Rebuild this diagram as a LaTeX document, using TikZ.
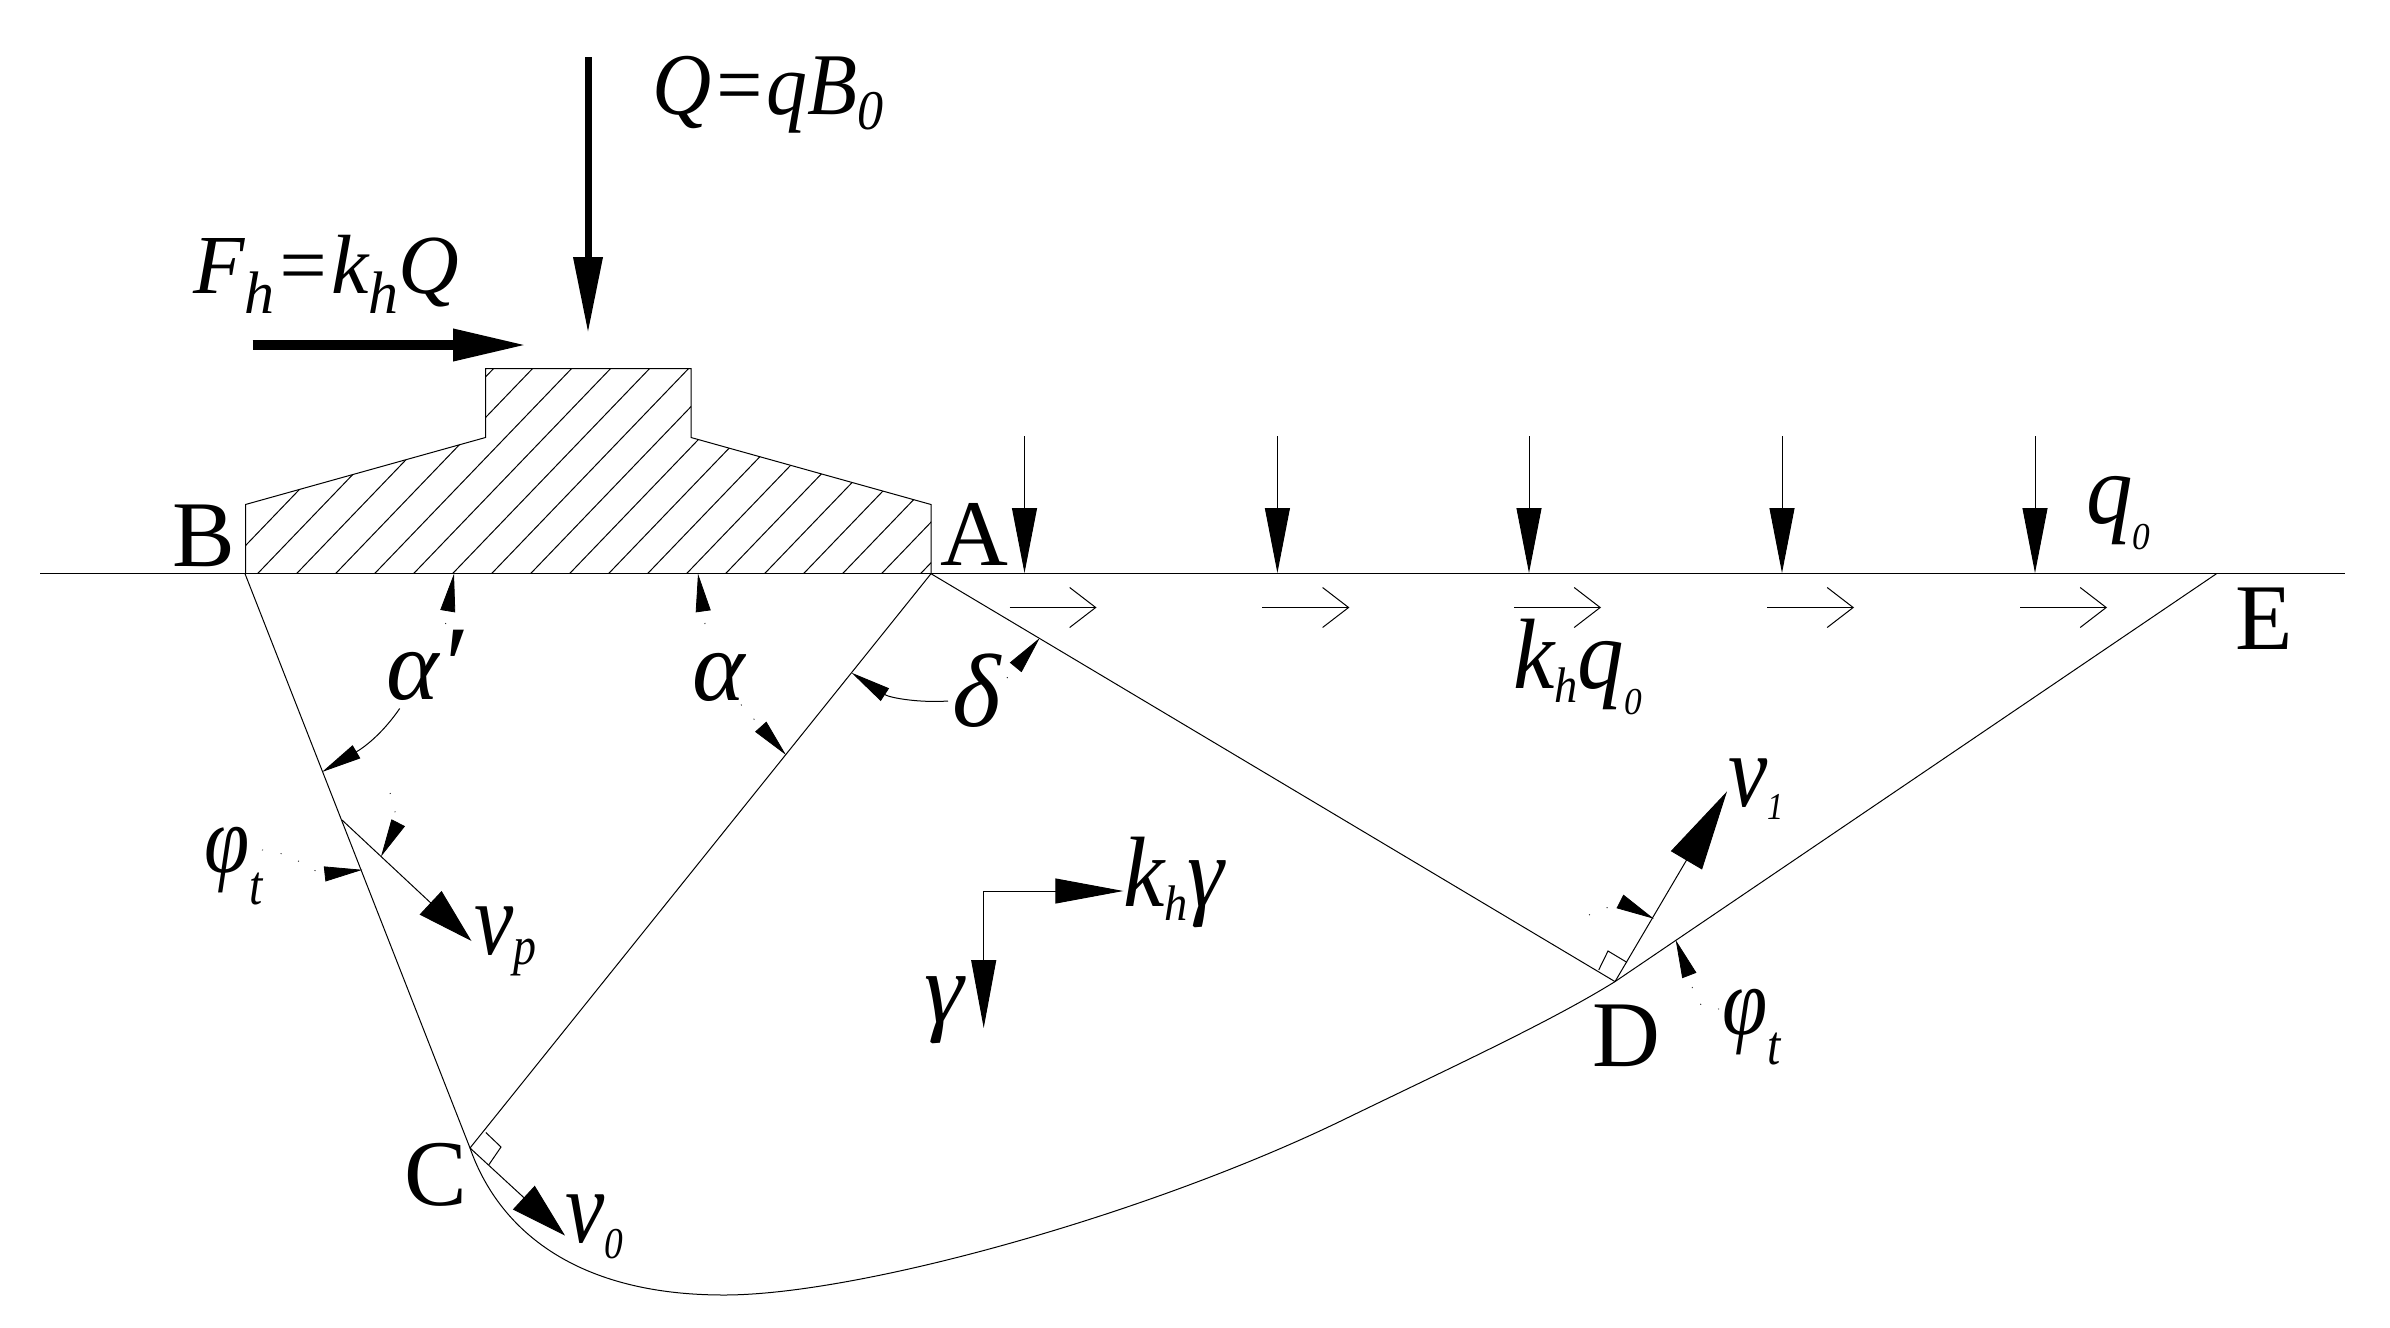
\documentclass[tikz,border=0pt]{standalone}
\usepackage{fontspec}
\usetikzlibrary{arrows.meta}
\setmainfont{Liberation Serif}
\newfontfamily\condfont[FakeStretch=0.85]{Liberation Serif}
\newfontfamily\midfont[FakeStretch=0.93]{Liberation Serif}
\newcommand\lowsub[3]{\raisebox{-#1}{\fontsize{#2}{#2}\selectfont #3}}
\tikzset{
  x=0.5pt,y=-0.5pt,
  ink/.style={black,line width=0.5pt},
  ground/.style={black,line width=0.75pt},
  hatchline/.style={black,line width=0.5pt},
  bigdown/.style={black,line width=3.5pt,-{Triangle[length=38pt,width=14pt]}},
  bigright/.style={black,line width=5pt,-{Triangle[length=37pt,width=15pt]}},
  load/.style={ink,-{Triangle[length=32.5pt,width=12.5pt]}},
  shear/.style={ink,-{Straight Barb[length=13pt,width=20pt,line width=0.5pt]}},
  gammaarrow/.style={ink,-{Triangle[length=34pt,width=12.5pt]}},
  velo/.style={ink,-{Triangle[length=28pt,width=16pt]}},
  velolong/.style={ink,-{Triangle[length=40pt,width=18pt]}},
  anglemark/.style={ink,-{Triangle[length=20pt,width=7.5pt]}},
  markdot/.style={line width=0.4pt,dash pattern=on 0.5pt off 9pt,-{Triangle[length=19pt,width=7.5pt]}},
  base/.style={anchor=base west,inner sep=0pt,outer sep=0pt},
  lab/.style={base,font=\midfont\itshape\fontsize{50pt}{50pt}\selectfont},
  labv/.style={base,font=\condfont\itshape\fontsize{52pt}{52pt}\selectfont},
  labphi/.style={base,font=\condfont\itshape\fontsize{48pt}{48pt}\selectfont},
  labgreek/.style={base,font=\itshape\fontsize{50pt}{50pt}\selectfont},
  labdelta/.style={base,font=\itshape\fontsize{52pt}{52pt}\selectfont},
  labQ/.style={base,font=\midfont\itshape\fontsize{44pt}{44pt}\selectfont},
  labF/.style={base,font=\itshape\fontsize{42pt}{42pt}\selectfont},
  ptlab/.style={base,font=\fontsize{47pt}{47pt}\selectfont},
}
\begin{document}
\begin{tikzpicture}
\useasboundingbox (0,0) rectangle (2390,1328);
% key points
\coordinate (GL) at (40,573.7);
\coordinate (GR) at (2345,573.7);
\coordinate (Bp) at (245,573.7);
\coordinate (Ap) at (931,573.7);
\coordinate (Cp) at (470,1148);
\coordinate (Dp) at (1615,981.6);
\coordinate (Ep) at (2216.5,573.7);
% footing
\begin{scope}
\clip (245.5,573.7) -- (245.5,504.5) -- (485.5,437.5) -- (485.5,368.6) -- (691,368.6) -- (691,437.5) -- (931,504.5) -- (931,573.7) -- cycle;
\foreach \i in {-1,0,...,24}{
  \draw[hatchline] ({257.5+39*\i},573.7) -- ({257.5+39*\i+220},{573.7-229});
}
\end{scope}
\draw[ink] (245.5,573.7) -- (245.5,504.5) -- (485.5,437.5) -- (485.5,368.6) -- (691,368.6) -- (691,437.5) -- (931,504.5) -- (931,573.7);
\draw[ground] (GL) -- (GR);
% failure mechanism
\draw[ink] (Bp) -- (Cp);
\draw[ink] (Ap) -- (Cp);
\draw[ink] (Ap) -- (Dp);
\draw[ink] (Dp) -- (Ep);
\draw[ink] (Cp) .. controls (497,1225) and (570,1295) .. (724,1295)
  .. controls (860,1295) and (1150,1214) .. (1345,1119)
  .. controls (1450,1068) and (1550,1022) .. (Dp);
% right angles
\draw[ink] (485.8,1132.5) -- (501,1147) -- (488.7,1165);
\draw[ink] (1598.7,970) -- (1608,951) -- (1627,962.4);
% top forces
\coordinate (Qa) at (588,57); \coordinate (Qb) at (588,333);
\draw[bigdown] (Qa) -- (Qb);
\coordinate (Fa) at (252.5,345); \coordinate (Fb) at (527,345);
\draw[bigright] (Fa) -- (Fb);
% surcharge
\foreach \x/\n in {1024.5/1,1277.4/2,1529/3,1782/4,2035/5}{
  \coordinate (la\n) at (\x,436); \coordinate (lb\n) at (\x,573);
  \draw[load] (la\n) -- (lb\n);
  \coordinate (sa\n) at ({\x-15},607.5); \coordinate (sb\n) at ({\x+72},607.5);
  \draw[shear] (sa\n) -- (sb\n);
}
% gamma
\coordinate (Gc) at (983.7,891); \coordinate (Gr) at (1123.4,891); \coordinate (Gd) at (983.7,1028);
\draw[gammaarrow] (Gc) -- (Gr);
\draw[gammaarrow] (Gc) -- (Gd);
% velocities
\coordinate (Vpa) at (342,820); \coordinate (Vpb) at (471.5,941);
\draw[velo] (Vpa) -- (Vpb);
\coordinate (V0b) at (565,1235.5);
\draw[velo] (Cp) -- (V0b);
\coordinate (V1b) at (1727,791.4);
\draw[velolong] (Dp) -- (V1b);
% angle marks
\coordinate (m1) at (454,573.7); \draw[markdot] (445.6,624) -- (m1);
\coordinate (m2) at (698,573.7); \draw[markdot] (705,624) -- (m2);
\coordinate (m3) at (322,772);
\draw[anglemark] (399.7,708.5) .. controls (385,730) and (368,745) .. (m3);
\coordinate (m4) at (786,755); \draw[markdot] (741,704.6) -- (m4);
\coordinate (m5) at (851.5,672.7);
\draw[anglemark] (948,701) .. controls (920,703) and (890,698) .. (m5);
\coordinate (m6) at (1039.7,638); \draw[markdot] (1007,678) -- (m6);
\coordinate (m7) at (381,856.6);
\draw[markdot] (390,793) .. controls (400,815) and (392,835) .. (m7);
\coordinate (m8) at (362.4,869.8);
\draw[markdot] (262,850) .. controls (295,852) and (315,875) .. (m8);
\coordinate (m9) at (1653.8,918.7);
\draw[markdot] (1589,915) .. controls (1607,905) and (1627,905) .. (m9);
\coordinate (m10) at (1675.7,940);
\draw[markdot] (1719,1009) .. controls (1692,1012) and (1693,985) .. (m10);
% labels
\node[labQ] (tQ) at (652,114) {Q=qB\lowsub{7.5pt}{28pt}{0}};
\node[labF] (tF) at (193,293) {F\lowsub{10pt}{30pt}{h}=k\lowsub{10pt}{30pt}{h}Q};
\node[ptlab] (tB) at (172,566) {B};
\node[ptlab] (tA) at (940,565) {A};
\node[ptlab] (tC) at (404,1205) {C};
\node[ptlab] (tD) at (1592,1066) {D};
\node[ptlab] (tE) at (2235,649) {E};
\node[lab] (tq0) at (2086,523) {q\lowsub{13pt}{19pt}{0}};
\node[lab] (tkq) at (1513,688) {k\lowsub{7pt}{25pt}{h}q\lowsub{13pt}{19pt}{0}};
\node[labdelta] (td) at (952,726) {δ};
\node[labgreek] (ta) at (692,700) {α};
\node[labgreek] (tap) at (386,699) {α\raisebox{-2pt}{\fontsize{56pt}{56pt}\selectfont ′}};
\node[labphi] (tpl) at (204,872) {φ\lowsub{16pt}{28pt}{t}};
\node[labphi] (tpr) at (1722,1034) {φ\lowsub{15pt}{28pt}{t}};
\node[labv] (tvp) at (474,954) {v\lowsub{5pt}{27pt}{p}};
\node[labv] (tv0) at (565,1242) {v\lowsub{8pt}{22pt}{0}};
\node[labv] (tv1) at (1728,806) {v\lowsub{6.5pt}{19pt}{1}};
\node[lab] (tkg) at (1123,906) {k\lowsub{7pt}{25pt}{h}γ};
\node[labgreek] (tg) at (924,1022) {γ};
\end{tikzpicture}
\end{document}
